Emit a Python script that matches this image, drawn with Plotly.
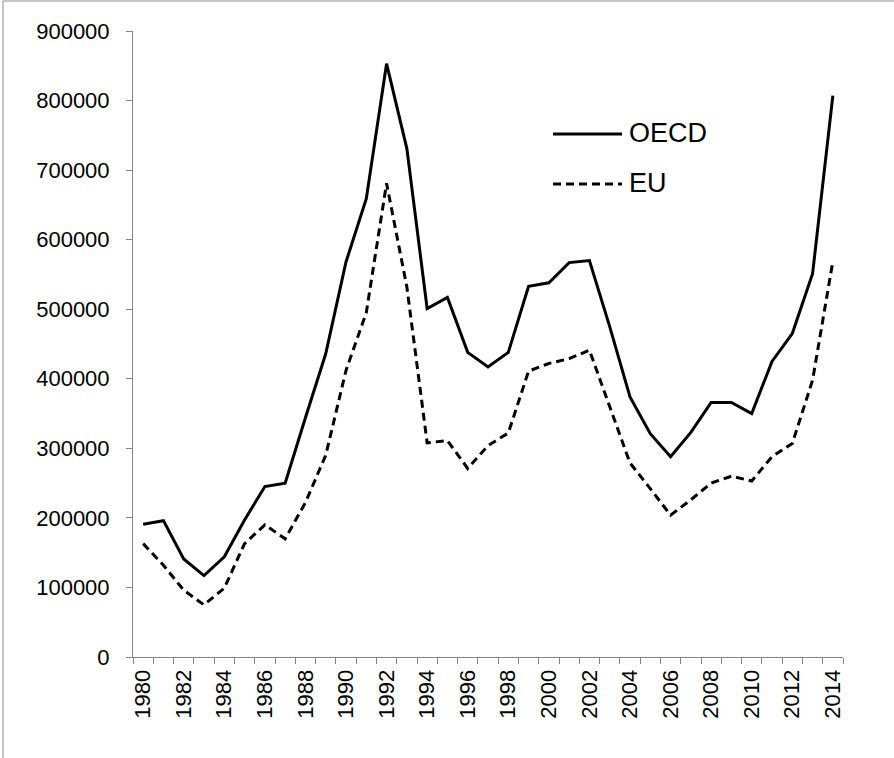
import plotly.graph_objects as go

years = list(range(1980, 2015))
oecd = [191000, 196000, 141000, 117000, 144000, 197000, 245000, 250000, 344000, 436000,
        568000, 659000, 853000, 731000, 501000, 517000, 438000, 417000, 438000, 533000,
        538000, 567000, 570000, 475000, 374000, 321000, 288000, 323000, 366000, 366000,
        350000, 425000, 465000, 551000, 807000]
eu = [163000, 132000, 96000, 75000, 99000, 163000, 190000, 170000, 222000, 290000,
      412000, 495000, 681000, 532000, 308000, 311000, 271000, 304000, 322000, 411000,
      422000, 429000, 441000, 360000, 279000, 242000, 204000, 226000, 250000, 260000,
      253000, 288000, 307000, 398000, 569000]
tick_years = list(range(1980, 2015, 2))
y_ticks = list(range(0, 900001, 100000))

FONT = "Liberation Sans, Arial, sans-serif"
AXIS = "#868686"

fig = go.Figure()
fig.add_trace(go.Scatter(x=years, y=oecd, mode="lines", name="OECD",
                         line=dict(color="black", width=3)))
fig.add_trace(go.Scatter(x=years, y=eu, mode="lines", name="EU",
                         line=dict(color="black", width=3, dash="8px,5px")))

W, H = 894, 758
L, R, T, B = 133, 51, 31, 101
pw, ph = W - L - R, H - T - B

def px_x(p):
    return (p - L) / pw

def px_y(p):
    return 1 - (p - T) / ph

shapes = [
    dict(type="rect", xref="paper", yref="paper", x0=px_x(3), x1=1.3, y0=-0.4, y1=px_y(1),
         line=dict(color="#8c8c8c", width=1), fillcolor="rgba(0,0,0,0)", layer="below"),
    dict(type="line", xref="paper", yref="paper", x0=px_x(553), x1=px_x(622),
         y0=px_y(134), y1=px_y(134), line=dict(color="black", width=3)),
    dict(type="line", xref="paper", yref="paper", x0=px_x(553), x1=px_x(622),
         y0=px_y(184), y1=px_y(184), line=dict(color="black", width=3, dash="8px,5px")),
]
annotations = [
    dict(xref="paper", yref="paper", x=px_x(627), y=px_y(133), text="OECD", showarrow=False,
         xanchor="left", yanchor="middle", font=dict(family=FONT, size=27, color="black")),
    dict(xref="paper", yref="paper", x=px_x(627), y=px_y(183), text="EU", showarrow=False,
         xanchor="left", yanchor="middle", font=dict(family=FONT, size=27, color="black")),
]

fig.update_layout(
    width=W, height=H,
    margin=dict(l=L, r=R, t=T, b=B, pad=0),
    paper_bgcolor="white", plot_bgcolor="white",
    showlegend=False,
    font=dict(family=FONT, size=22, color="black"),
    shapes=shapes, annotations=annotations,
    xaxis=dict(range=[1979.5, 2014.5], tickmode="array", tickvals=tick_years,
               ticktext=[str(y) for y in tick_years], tickangle=-90,
               showgrid=False, zeroline=False, showline=True, linecolor=AXIS, linewidth=1,
               ticks="outside", ticklen=0, tickcolor=AXIS,
               minor=dict(tickmode="linear", tick0=1979.5, dtick=1, ticks="outside",
                          ticklen=6, tickcolor=AXIS, tickwidth=1, showgrid=False),
               tickfont=dict(family=FONT, size=22, color="black"), ticklabelstandoff=3),
    yaxis=dict(range=[0, 900000], tickmode="array", tickvals=y_ticks,
               ticktext=[str(v) for v in y_ticks],
               showgrid=False, zeroline=False, showline=True, linecolor=AXIS, linewidth=1,
               ticks="outside", ticklen=6, tickcolor=AXIS, tickwidth=1,
               tickfont=dict(family=FONT, size=22, color="black"), ticklabelstandoff=12),
)

fig.write_html("out.html", config={"displayModeBar": False},
               post_script="document.body.style.margin='0px';")
